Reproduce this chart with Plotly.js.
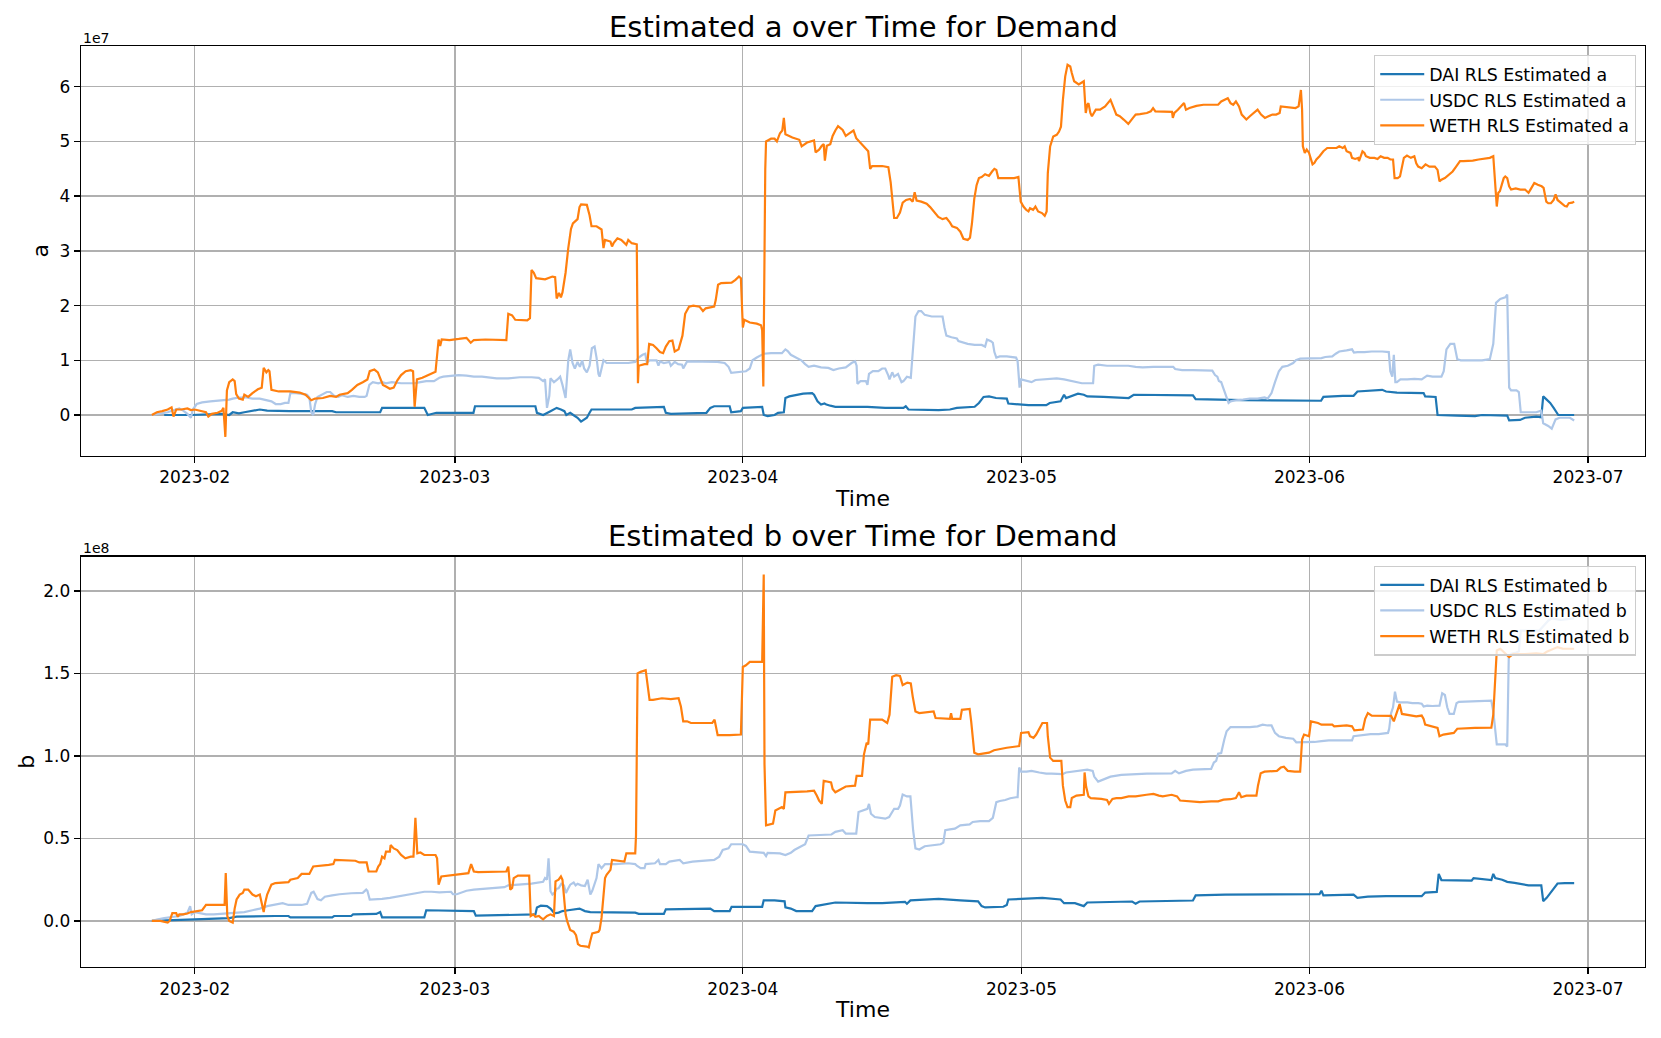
<!DOCTYPE html>
<html>
<head>
<meta charset="utf-8">
<script src="https://cdn.plot.ly/plotly-3.0.1.min.js"></script>
<style>html,body{margin:0;padding:0;background:#fff;}#chart{width:1661px;height:1038px;}</style>
</head>
<body>
<div id="chart"></div>
<script>
// Values in axis display units: a in 1e7, b in 1e8. Times are "MM-DD HH" in 2023.
const SCALE_A = 1e7;
const SCALE_B = 1e8;
const YEAR = "2023";

const seriesNames = ["DAI", "USDC", "WETH"];
const seriesColors = ["#1f77b4", "#aec7e8", "#ff7f0e"];
const xTickFormat = "%Y-%m";
const aTickVals = [0, 1, 2, 3, 4, 5, 6];
const aTickText = ["0", "1", "2", "3", "4", "5", "6"];
const bTickVals = [0, 0.5, 1.0, 1.5, 2.0];
const bTickText = ["0.0", "0.5", "1.0", "1.5", "2.0"];

const daiA = [["01-28 17",0.00],["01-31 14",0.00],["02-03 22",0.02],["02-04 17",0.00],["02-05 02",0.05],["02-05 18",0.03],["02-06 08",0.05],["02-07 05",0.08],["02-08 00",0.10],["02-08 19",0.08],["02-11 05",0.07],["02-15 19",0.07],["02-16 05",0.05],["02-20 23",0.05],["02-21 04",0.13],["02-25 17",0.13],["02-26 02",0.00],["02-27 00",0.04],["03-03 00",0.04],["03-03 04",0.16],["03-09 16",0.16],["03-09 20",0.04],["03-10 12",0.00],["03-11 07",0.07],["03-11 23",0.13],["03-12 10",0.10],["03-12 19",0.07],["03-13 00",0.00],["03-13 10",0.04],["03-13 18",0.00],["03-14 05",-0.05],["03-14 14",-0.12],["03-15 05",-0.05],["03-15 12",0.04],["03-15 17",0.10],["03-16 14",0.10],["03-20 01",0.10],["03-20 10",0.13],["03-23 12",0.15],["03-23 17",0.04],["03-24 06",0.02],["03-28 02",0.04],["03-28 12",0.13],["03-28 22",0.16],["03-30 14",0.16],["03-30 18",0.05],["03-31 19",0.07],["04-01 00",0.13],["04-03 02",0.15],["04-03 06",0.00],["04-03 16",-0.02],["04-04 10",0.00],["04-04 19",0.04],["04-05 10",0.05],["04-05 14",0.31],["04-06 00",0.34],["04-06 18",0.37],["04-07 12",0.39],["04-08 11",0.40],["04-08 16",0.37],["04-09 01",0.25],["04-09 10",0.19],["04-09 19",0.21],["04-10 00",0.19],["04-10 10",0.17],["04-10 23",0.15],["04-14 10",0.15],["04-16 08",0.13],["04-18 07",0.13],["04-18 13",0.16],["04-18 20",0.10],["04-20 05",0.09],["04-22 02",0.09],["04-23 07",0.10],["04-24 01",0.13],["04-25 23",0.15],["04-26 10",0.22],["04-26 22",0.33],["04-27 12",0.34],["04-28 06",0.31],["04-29 10",0.30],["04-29 14",0.21],["04-30 23",0.19],["05-01 18",0.18],["05-03 16",0.18],["05-04 01",0.22],["05-05 05",0.25],["05-05 14",0.37],["05-05 19",0.31],["05-06 08",0.34],["05-07 02",0.39],["05-07 17",0.37],["05-08 02",0.34],["05-09 20",0.33],["05-12 13",0.31],["05-13 02",0.37],["05-19 11",0.36],["05-19 18",0.29],["05-23 02",0.28],["05-24 20",0.27],["06-02 06",0.26],["06-02 12",0.33],["06-04 14",0.35],["06-05 18",0.35],["06-06 04",0.43],["06-08 20",0.46],["06-09 06",0.43],["06-10 10",0.41],["06-13 07",0.40],["06-13 11",0.34],["06-14 14",0.33],["06-14 19",0.00],["06-16 22",-0.01],["06-18 20",-0.02],["06-19 14",0.00],["06-20 19",-0.01],["06-22 07",-0.01],["06-22 12",-0.10],["06-23 16",-0.09],["06-24 05",-0.05],["06-25 10",-0.03],["06-25 23",-0.04],["06-26 04",0.34],["06-26 13",0.28],["06-26 22",0.22],["06-27 07",0.13],["06-27 19",0.00],["06-29 12",0.00]];

const usdcA = [["01-27 09",0.00],["01-28 07",0.02],["01-29 02",0.05],["01-29 23",0.10],["01-30 08",0.12],["01-30 18",0.08],["01-31 05",0.02],["01-31 14",-0.05],["01-31 19",0.10],["02-01 05",0.20],["02-01 19",0.23],["02-02 16",0.25],["02-03 11",0.26],["02-04 02",0.27],["02-04 17",0.28],["02-05 02",0.30],["02-05 18",0.32],["02-06 13",0.32],["02-07 05",0.30],["02-08 00",0.30],["02-08 14",0.28],["02-09 06",0.25],["02-09 17",0.20],["02-10 06",0.20],["02-10 17",0.22],["02-11 02",0.22],["02-11 07",0.40],["02-11 22",0.40],["02-12 17",0.38],["02-13 02",0.37],["02-13 08",0.32],["02-13 13",0.05],["02-13 18",0.00],["02-13 23",0.20],["02-14 05",0.33],["02-14 19",0.38],["02-15 05",0.42],["02-15 14",0.42],["02-16 00",0.35],["02-16 11",0.33],["02-16 20",0.36],["02-17 11",0.33],["02-18 02",0.35],["02-18 17",0.33],["02-19 07",0.33],["02-19 12",0.35],["02-19 19",0.55],["02-20 04",0.60],["02-20 18",0.58],["02-21 05",0.60],["02-21 14",0.58],["02-22 05",0.60],["02-23 05",0.58],["02-24 01",0.58],["02-24 16",0.58],["02-25 07",0.60],["02-25 22",0.62],["02-26 18",0.62],["02-27 08",0.68],["02-27 18",0.70],["02-28 14",0.72],["03-01 10",0.73],["03-02 06",0.72],["03-03 01",0.70],["03-03 22",0.70],["03-04 17",0.68],["03-05 12",0.67],["03-06 18",0.67],["03-08 00",0.69],["03-09 06",0.69],["03-10 01",0.68],["03-10 12",0.62],["03-10 17",0.65],["03-10 22",0.13],["03-11 04",0.35],["03-11 07",0.67],["03-11 16",0.60],["03-12 01",0.65],["03-12 08",0.70],["03-12 14",0.55],["03-12 22",0.31],["03-13 05",1.00],["03-13 10",1.20],["03-13 16",0.95],["03-13 22",0.85],["03-14 05",0.97],["03-14 11",0.88],["03-14 17",1.00],["03-14 22",0.85],["03-15 05",0.78],["03-15 12",0.90],["03-15 18",1.22],["03-16 01",1.25],["03-16 06",1.05],["03-16 11",0.75],["03-16 14",0.70],["03-16 19",0.85],["03-17 00",1.00],["03-17 08",0.95],["03-18 02",0.95],["03-19 00",0.95],["03-19 16",0.95],["03-20 10",0.97],["03-20 19",1.05],["03-21 05",1.10],["03-21 12",1.12],["03-21 16",0.95],["03-21 23",1.00],["03-22 17",1.00],["03-22 22",0.90],["03-23 02",0.98],["03-23 12",0.95],["03-24 02",0.97],["03-24 06",0.90],["03-24 16",0.97],["03-25 01",0.93],["03-25 11",0.92],["03-25 14",0.85],["03-26 00",0.98],["03-26 14",0.98],["03-27 08",0.97],["03-28 02",0.98],["03-29 06",0.97],["03-30 01",0.95],["03-30 11",0.88],["03-30 18",0.77],["03-31 05",0.78],["04-01 08",0.80],["04-01 18",0.85],["04-02 01",1.00],["04-02 12",1.05],["04-03 06",1.12],["04-04 01",1.13],["04-05 05",1.13],["04-05 14",1.20],["04-05 20",1.17],["04-06 04",1.10],["04-06 18",1.05],["04-07 07",1.00],["04-07 17",0.93],["04-08 02",0.88],["04-08 16",0.90],["04-09 10",0.87],["04-10 05",0.86],["04-10 18",0.82],["04-11 08",0.85],["04-12 02",0.87],["04-12 17",0.95],["04-13 02",0.98],["04-13 06",0.90],["04-13 08",0.57],["04-13 16",0.62],["04-14 06",0.62],["04-14 10",0.55],["04-14 14",0.75],["04-15 00",0.80],["04-15 14",0.80],["04-16 00",0.85],["04-16 08",0.85],["04-16 16",0.72],["04-16 19",0.65],["04-17 02",0.78],["04-17 07",0.70],["04-17 17",0.75],["04-18 02",0.60],["04-18 07",0.62],["04-18 16",0.70],["04-19 02",0.68],["04-19 08",1.30],["04-19 14",1.80],["04-19 22",1.90],["04-20 05",1.90],["04-20 14",1.83],["04-21 08",1.80],["04-21 23",1.80],["04-22 12",1.80],["04-22 17",1.60],["04-22 22",1.45],["04-23 11",1.42],["04-24 01",1.40],["04-24 05",1.35],["04-24 14",1.33],["04-25 05",1.30],["04-25 23",1.28],["04-26 17",1.28],["04-27 02",1.25],["04-27 07",1.38],["04-27 17",1.35],["04-27 22",1.32],["04-28 02",1.15],["04-28 07",1.05],["04-28 16",1.07],["04-29 10",1.07],["04-30 10",1.05],["04-30 14",0.98],["04-30 17",0.70],["04-30 19",0.50],["04-30 23",0.65],["05-01 13",0.62],["05-02 02",0.60],["05-02 12",0.64],["05-03 06",0.65],["05-04 01",0.65],["05-04 19",0.67],["05-05 14",0.65],["05-06 18",0.60],["05-07 12",0.58],["05-08 17",0.58],["05-08 20",0.90],["05-09 06",0.92],["05-10 05",0.90],["05-11 08",0.90],["05-12 12",0.90],["05-13 07",0.88],["05-14 01",0.87],["05-15 05",0.88],["05-16 10",0.88],["05-17 08",0.88],["05-17 13",0.84],["05-18 07",0.82],["05-19 11",0.82],["05-20 14",0.82],["05-21 13",0.81],["05-21 20",0.73],["05-22 02",0.70],["05-22 06",0.62],["05-22 12",0.60],["05-22 17",0.50],["05-23 00",0.35],["05-23 07",0.22],["05-23 12",0.25],["05-24 02",0.27],["05-24 20",0.28],["05-25 14",0.30],["05-26 10",0.30],["05-27 04",0.32],["05-27 12",0.30],["05-27 22",0.40],["05-28 07",0.60],["05-28 17",0.80],["05-29 02",0.88],["05-29 16",0.90],["05-30 06",0.95],["05-30 13",1.00],["05-31 00",1.03],["05-31 19",1.03],["06-01 13",1.04],["06-02 07",1.04],["06-02 17",1.06],["06-03 11",1.07],["06-03 20",1.12],["06-04 05",1.16],["06-05 00",1.18],["06-05 14",1.20],["06-05 19",1.14],["06-06 04",1.15],["06-06 22",1.15],["06-07 17",1.16],["06-08 20",1.16],["06-09 13",1.15],["06-09 17",0.80],["06-09 22",0.70],["06-10 02",1.10],["06-10 06",0.60],["06-10 10",0.60],["06-10 19",0.65],["06-11 13",0.65],["06-12 07",0.66],["06-13 02",0.65],["06-13 16",0.72],["06-14 06",0.70],["06-15 05",0.70],["06-15 11",0.80],["06-15 18",1.20],["06-16 04",1.30],["06-16 14",1.30],["06-16 22",1.02],["06-17 07",1.00],["06-18 11",1.00],["06-19 14",1.00],["06-20 10",1.02],["06-20 19",1.30],["06-21 02",2.05],["06-21 13",2.12],["06-22 02",2.15],["06-22 07",2.20],["06-22 12",0.50],["06-22 17",0.45],["06-23 07",0.45],["06-23 13",0.42],["06-23 18",0.05],["06-24 14",0.05],["06-25 10",0.05],["06-25 23",0.08],["06-26 04",-0.15],["06-26 17",-0.20],["06-27 02",-0.25],["06-27 12",-0.08],["06-27 22",-0.05],["06-28 12",-0.05],["06-29 01",-0.05],["06-29 12",-0.10]];

const wethA = [["01-27 09",0.00],["01-27 22",0.05],["01-28 12",0.07],["01-29 02",0.10],["01-29 12",0.14],["01-29 17",-0.03],["01-30 00",0.10],["01-30 13",0.10],["01-31 05",0.12],["01-31 14",0.09],["02-01 00",0.10],["02-01 14",0.07],["02-02 05",0.05],["02-02 11",-0.03],["02-02 20",0.02],["02-03 11",0.04],["02-03 22",0.08],["02-04 02",0.13],["02-04 07",-0.40],["02-04 11",0.45],["02-04 17",0.60],["02-05 02",0.65],["02-05 07",0.62],["02-05 11",0.38],["02-05 18",0.30],["02-06 04",0.28],["02-06 08",0.37],["02-06 18",0.33],["02-07 05",0.40],["02-07 19",0.47],["02-08 05",0.50],["02-08 10",0.86],["02-08 17",0.78],["02-08 22",0.82],["02-09 01",0.80],["02-09 06",0.46],["02-10 01",0.43],["02-11 07",0.43],["02-12 07",0.41],["02-12 22",0.37],["02-13 13",0.27],["02-13 23",0.30],["02-14 19",0.31],["02-15 14",0.35],["02-16 05",0.33],["02-16 14",0.37],["02-17 11",0.40],["02-17 22",0.46],["02-18 12",0.55],["02-19 02",0.60],["02-19 14",0.65],["02-19 20",0.80],["02-20 08",0.83],["02-20 17",0.78],["02-20 23",0.68],["02-21 06",0.55],["02-21 14",0.52],["02-22 00",0.48],["02-22 10",0.50],["02-22 19",0.63],["02-23 05",0.73],["02-23 17",0.80],["02-24 06",0.82],["02-24 12",0.80],["02-24 16",0.15],["02-24 22",0.65],["02-25 12",0.68],["02-26 07",0.74],["02-26 22",0.79],["02-27 06",1.38],["02-27 10",1.26],["02-27 14",1.38],["02-28 10",1.37],["03-01 10",1.39],["03-02 06",1.41],["03-02 17",1.32],["03-03 01",1.37],["03-04 07",1.38],["03-05 12",1.38],["03-06 13",1.37],["03-06 18",1.85],["03-07 04",1.82],["03-07 12",1.74],["03-08 19",1.73],["03-09 02",1.77],["03-09 06",2.65],["03-09 12",2.60],["03-09 18",2.50],["03-10 17",2.48],["03-11 02",2.50],["03-11 12",2.53],["03-11 19",2.52],["03-11 23",2.13],["03-12 05",2.23],["03-12 10",2.15],["03-12 14",2.24],["03-12 22",2.60],["03-13 05",3.05],["03-13 12",3.40],["03-13 17",3.50],["03-14 05",3.58],["03-14 10",3.80],["03-14 14",3.85],["03-15 05",3.84],["03-15 12",3.65],["03-15 17",3.45],["03-16 06",3.45],["03-16 19",3.39],["03-17 00",3.05],["03-17 04",3.20],["03-17 18",3.17],["03-17 22",3.08],["03-18 02",3.14],["03-18 12",3.23],["03-18 22",3.20],["03-19 11",3.11],["03-19 16",3.20],["03-20 01",3.14],["03-20 10",3.13],["03-20 14",3.12],["03-20 17",0.58],["03-20 19",0.90],["03-21 10",0.93],["03-21 17",0.93],["03-21 22",1.30],["03-22 08",1.28],["03-22 17",1.22],["03-23 02",1.15],["03-23 10",1.13],["03-23 17",1.25],["03-24 02",1.35],["03-24 10",1.36],["03-24 16",1.16],["03-25 02",1.20],["03-25 12",1.45],["03-25 19",1.85],["03-26 05",1.98],["03-26 16",2.00],["03-27 08",1.98],["03-27 17",1.90],["03-28 00",1.95],["03-28 22",1.98],["03-29 02",2.10],["03-29 08",2.38],["03-29 16",2.41],["03-30 19",2.42],["03-31 05",2.47],["03-31 14",2.53],["03-31 19",2.50],["04-01 00",1.60],["04-01 04",1.74],["04-01 18",1.69],["04-02 12",1.67],["04-02 23",1.64],["04-03 02",1.55],["04-03 05",0.52],["04-03 10",4.50],["04-03 12",5.00],["04-04 01",5.05],["04-04 10",5.05],["04-04 16",5.00],["04-05 00",5.15],["04-05 06",5.20],["04-05 10",5.43],["04-05 14",5.13],["04-06 08",5.07],["04-07 02",5.03],["04-07 08",4.91],["04-07 22",4.98],["04-08 16",5.02],["04-08 20",4.80],["04-09 05",4.85],["04-09 12",4.92],["04-09 17",4.95],["04-09 20",4.65],["04-10 01",4.92],["04-10 10",4.95],["04-10 16",5.10],["04-10 23",5.20],["04-11 06",5.28],["04-11 18",5.21],["04-12 02",5.10],["04-12 12",5.15],["04-12 22",5.20],["04-13 05",5.06],["04-13 16",4.97],["04-14 06",4.85],["04-14 12",4.82],["04-14 17",4.50],["04-14 22",4.55],["04-16 00",4.55],["04-16 16",4.53],["04-16 22",4.25],["04-17 02",3.95],["04-17 07",3.60],["04-17 14",3.60],["04-17 22",3.70],["04-18 05",3.88],["04-18 14",3.93],["04-19 00",3.95],["04-19 07",3.90],["04-19 12",4.07],["04-19 17",3.92],["04-20 05",3.90],["04-20 19",3.86],["04-21 04",3.80],["04-21 13",3.72],["04-22 01",3.62],["04-22 12",3.58],["04-22 22",3.60],["04-23 07",3.52],["04-23 13",3.45],["04-24 01",3.42],["04-24 10",3.35],["04-24 18",3.22],["04-25 05",3.20],["04-25 11",3.24],["04-25 16",3.50],["04-25 22",3.95],["04-26 04",4.20],["04-26 10",4.33],["04-26 17",4.35],["04-27 02",4.40],["04-27 12",4.37],["04-27 20",4.45],["04-28 02",4.50],["04-28 07",4.48],["04-28 12",4.33],["04-29 10",4.33],["04-30 05",4.33],["04-30 16",4.35],["04-30 22",3.90],["05-01 05",3.81],["05-01 12",3.75],["05-01 18",3.72],["05-01 22",3.78],["05-02 06",3.75],["05-02 12",3.81],["05-02 19",3.72],["05-03 05",3.69],["05-03 12",3.64],["05-03 17",3.72],["05-03 20",4.42],["05-04 02",4.91],["05-04 10",5.09],["05-04 19",5.12],["05-05 01",5.18],["05-05 06",5.27],["05-05 11",5.76],["05-05 17",6.19],["05-05 23",6.40],["05-06 06",6.37],["05-06 10",6.25],["05-06 16",6.10],["05-07 04",6.04],["05-07 12",6.07],["05-07 17",6.10],["05-07 22",5.52],["05-08 02",5.67],["05-08 05",5.70],["05-08 10",5.52],["05-08 14",5.46],["05-09 00",5.58],["05-09 11",5.58],["05-10 00",5.64],["05-10 14",5.76],["05-10 20",5.67],["05-11 00",5.58],["05-11 05",5.49],["05-11 14",5.46],["05-12 00",5.40],["05-12 12",5.32],["05-13 00",5.43],["05-13 07",5.49],["05-13 18",5.50],["05-14 12",5.52],["05-14 22",5.55],["05-15 04",5.61],["05-15 10",5.55],["05-16 00",5.55],["05-16 14",5.54],["05-17 05",5.54],["05-17 07",5.43],["05-17 11",5.52],["05-17 20",5.58],["05-18 07",5.67],["05-18 12",5.70],["05-18 17",5.58],["05-19 02",5.61],["05-19 20",5.65],["05-20 14",5.67],["05-21 09",5.67],["05-22 04",5.67],["05-22 12",5.73],["05-22 22",5.76],["05-23 05",5.79],["05-23 12",5.70],["05-23 19",5.67],["05-24 02",5.73],["05-24 10",5.64],["05-24 17",5.49],["05-25 00",5.43],["05-25 05",5.40],["05-25 14",5.46],["05-26 00",5.52],["05-26 10",5.58],["05-26 19",5.49],["05-27 05",5.43],["05-27 14",5.46],["05-28 00",5.49],["05-28 10",5.49],["05-28 19",5.52],["05-28 22",5.64],["05-29 12",5.63],["05-30 02",5.63],["05-30 12",5.61],["05-30 20",5.64],["05-31 02",5.94],["05-31 05",5.58],["05-31 07",4.91],["05-31 12",4.79],["05-31 17",4.85],["05-31 23",4.79],["06-01 04",4.67],["06-01 08",4.58],["06-01 13",4.61],["06-01 18",4.67],["06-02 02",4.73],["06-02 12",4.82],["06-02 22",4.88],["06-03 12",4.88],["06-03 22",4.88],["06-04 05",4.91],["06-04 14",4.88],["06-04 19",4.91],["06-05 00",4.82],["06-05 10",4.79],["06-05 14",4.70],["06-05 22",4.68],["06-06 06",4.70],["06-06 08",4.64],["06-06 13",4.73],["06-06 17",4.82],["06-06 22",4.79],["06-07 02",4.73],["06-07 12",4.70],["06-08 00",4.70],["06-08 08",4.68],["06-08 16",4.73],["06-09 01",4.70],["06-09 10",4.70],["06-09 17",4.67],["06-10 00",4.67],["06-10 04",4.33],["06-10 12",4.33],["06-10 18",4.36],["06-11 00",4.58],["06-11 04",4.70],["06-11 12",4.74],["06-11 22",4.70],["06-12 07",4.73],["06-12 12",4.60],["06-12 17",4.54],["06-13 02",4.51],["06-13 12",4.58],["06-13 22",4.54],["06-14 12",4.54],["06-14 19",4.48],["06-15 00",4.27],["06-15 05",4.30],["06-15 14",4.33],["06-16 00",4.39],["06-16 10",4.45],["06-16 19",4.54],["06-17 00",4.60],["06-17 05",4.64],["06-17 14",4.64],["06-18 05",4.64],["06-18 14",4.65],["06-19 05",4.67],["06-19 19",4.68],["06-20 10",4.70],["06-20 19",4.73],["06-21 00",4.30],["06-21 04",3.81],["06-21 08",4.06],["06-21 12",4.09],["06-21 17",4.21],["06-21 22",4.33],["06-22 02",4.36],["06-22 07",4.33],["06-22 12",4.18],["06-22 17",4.12],["06-23 05",4.14],["06-23 17",4.12],["06-24 05",4.12],["06-24 14",4.06],["06-24 19",4.12],["06-25 00",4.18],["06-25 05",4.24],["06-25 14",4.21],["06-26 00",4.18],["06-26 05",4.15],["06-26 08",4.06],["06-26 12",3.90],["06-26 17",3.87],["06-27 00",3.87],["06-27 07",3.93],["06-27 12",4.03],["06-27 17",3.93],["06-28 02",3.87],["06-28 12",3.82],["06-28 17",3.81],["06-28 22",3.87],["06-29 07",3.88],["06-29 12",3.90]];

const daiB = [["01-27 09",0.000],["01-30 08",0.004],["02-01 00",0.010],["02-04 17",0.017],["02-05 12",0.026],["02-09 16",0.030],["02-11 02",0.030],["02-11 07",0.022],["02-15 19",0.022],["02-16 00",0.030],["02-17 20",0.030],["02-18 01",0.040],["02-20 13",0.043],["02-20 23",0.054],["02-21 04",0.022],["02-25 17",0.022],["02-25 22",0.065],["03-03 01",0.060],["03-03 06",0.032],["03-09 16",0.040],["03-09 20",0.082],["03-10 06",0.093],["03-10 22",0.090],["03-11 07",0.075],["03-11 17",0.047],["03-12 04",0.051],["03-12 14",0.060],["03-13 05",0.065],["03-13 19",0.070],["03-14 10",0.075],["03-15 00",0.060],["03-15 14",0.054],["03-20 10",0.050],["03-20 19",0.043],["03-23 12",0.043],["03-23 17",0.070],["03-28 12",0.075],["03-28 22",0.060],["03-30 14",0.060],["03-30 19",0.086],["04-03 02",0.086],["04-03 06",0.125],["04-04 10",0.125],["04-05 12",0.119],["04-05 14",0.082],["04-06 04",0.075],["04-06 18",0.060],["04-08 11",0.060],["04-08 20",0.090],["04-09 10",0.097],["04-10 05",0.104],["04-10 23",0.112],["04-14 10",0.108],["04-16 00",0.108],["04-18 11",0.116],["04-18 16",0.104],["04-19 01",0.125],["04-20 05",0.130],["04-22 02",0.134],["04-24 10",0.125],["04-26 08",0.119],["04-26 17",0.090],["04-27 02",0.082],["04-29 01",0.086],["04-29 10",0.097],["04-29 14",0.130],["04-30 23",0.134],["05-03 06",0.140],["05-05 05",0.130],["05-05 14",0.108],["05-06 18",0.108],["05-07 07",0.097],["05-07 17",0.090],["05-08 02",0.112],["05-11 08",0.118],["05-12 22",0.118],["05-13 07",0.104],["05-13 17",0.118],["05-19 11",0.124],["05-19 18",0.155],["05-22 22",0.160],["05-30 14",0.163],["06-02 02",0.163],["06-02 07",0.183],["06-02 12",0.155],["06-05 18",0.160],["06-06 04",0.140],["06-07 07",0.147],["06-09 06",0.150],["06-13 02",0.150],["06-13 11",0.172],["06-14 17",0.176],["06-14 22",0.285],["06-15 05",0.248],["06-18 11",0.244],["06-18 16",0.260],["06-19 19",0.255],["06-20 14",0.248],["06-20 19",0.285],["06-21 00",0.260],["06-21 18",0.250],["06-22 07",0.237],["06-23 02",0.231],["06-23 20",0.222],["06-24 14",0.216],["06-25 23",0.216],["06-26 04",0.120],["06-26 13",0.140],["06-27 00",0.172],["06-27 07",0.194],["06-27 17",0.227],["06-28 12",0.230],["06-29 12",0.230]];

const usdcB = [["01-27 09",0.000],["01-27 22",0.009],["01-28 17",0.017],["01-29 12",0.022],["01-30 08",0.030],["01-30 18",0.040],["01-31 05",0.050],["01-31 12",0.090],["01-31 16",0.040],["02-01 00",0.054],["02-01 10",0.048],["02-02 05",0.040],["02-03 01",0.040],["02-03 22",0.043],["02-04 17",0.048],["02-06 08",0.054],["02-07 05",0.065],["02-08 00",0.075],["02-08 19",0.090],["02-09 16",0.100],["02-10 11",0.108],["02-11 02",0.097],["02-12 12",0.097],["02-13 02",0.104],["02-13 13",0.170],["02-13 19",0.177],["02-14 05",0.133],["02-14 14",0.125],["02-15 00",0.147],["02-15 19",0.155],["02-16 14",0.162],["02-17 20",0.168],["02-19 02",0.170],["02-19 11",0.190],["02-19 14",0.183],["02-19 20",0.130],["02-20 18",0.130],["02-21 04",0.134],["02-22 00",0.140],["02-22 19",0.147],["02-23 16",0.155],["02-24 22",0.170],["02-25 17",0.177],["02-26 12",0.177],["02-27 08",0.173],["02-28 14",0.177],["02-28 19",0.162],["03-01 05",0.162],["03-01 14",0.170],["03-02 06",0.183],["03-03 01",0.190],["03-03 22",0.194],["03-05 12",0.198],["03-06 08",0.205],["03-06 18",0.216],["03-08 00",0.220],["03-09 06",0.226],["03-10 12",0.237],["03-10 17",0.260],["03-10 22",0.250],["03-11 02",0.380],["03-11 07",0.180],["03-11 12",0.160],["03-11 17",0.170],["03-11 23",0.195],["03-12 04",0.198],["03-12 11",0.226],["03-12 18",0.216],["03-12 23",0.170],["03-13 04",0.194],["03-13 10",0.220],["03-13 19",0.233],["03-14 00",0.216],["03-14 05",0.226],["03-14 14",0.216],["03-15 00",0.212],["03-15 07",0.250],["03-15 14",0.160],["03-15 19",0.183],["03-16 06",0.260],["03-16 11",0.345],["03-16 19",0.320],["03-17 04",0.345],["03-18 07",0.345],["03-19 16",0.350],["03-20 10",0.345],["03-20 14",0.335],["03-21 00",0.320],["03-21 10",0.320],["03-21 13",0.345],["03-22 13",0.350],["03-22 22",0.370],["03-23 02",0.345],["03-23 17",0.345],["03-24 02",0.360],["03-25 05",0.370],["03-25 14",0.350],["03-26 14",0.360],["03-28 02",0.367],["03-28 22",0.370],["03-29 11",0.390],["03-29 20",0.430],["03-30 11",0.440],["03-30 18",0.465],["04-01 00",0.465],["04-01 08",0.455],["04-01 18",0.420],["04-03 06",0.413],["04-03 12",0.393],["04-03 16",0.413],["04-05 00",0.410],["04-05 14",0.400],["04-06 04",0.413],["04-06 13",0.430],["04-07 07",0.453],["04-07 17",0.465],["04-08 02",0.518],["04-09 10",0.522],["04-10 13",0.524],["04-10 23",0.540],["04-11 18",0.550],["04-12 02",0.530],["04-13 05",0.530],["04-13 11",0.660],["04-14 01",0.670],["04-14 10",0.680],["04-14 14",0.710],["04-14 19",0.650],["04-15 05",0.630],["04-16 08",0.620],["04-16 18",0.630],["04-17 01",0.660],["04-17 07",0.680],["04-17 17",0.680],["04-17 22",0.700],["04-18 05",0.766],["04-18 16",0.755],["04-19 01",0.755],["04-19 08",0.550],["04-19 14",0.440],["04-20 00",0.433],["04-20 14",0.453],["04-21 08",0.458],["04-22 07",0.465],["04-22 14",0.475],["04-22 19",0.550],["04-23 07",0.555],["04-23 20",0.560],["04-24 10",0.580],["04-25 10",0.585],["04-25 18",0.600],["04-26 13",0.605],["04-27 12",0.605],["04-27 22",0.625],["04-28 07",0.720],["04-28 16",0.727],["04-29 06",0.733],["04-29 19",0.744],["04-30 10",0.750],["04-30 14",0.750],["04-30 18",0.930],["04-30 23",0.905],["05-01 13",0.905],["05-02 02",0.910],["05-02 22",0.900],["05-03 16",0.893],["05-04 06",0.893],["05-04 19",0.890],["05-05 10",0.890],["05-05 19",0.900],["05-06 08",0.905],["05-07 07",0.910],["05-08 02",0.917],["05-08 16",0.910],["05-08 20",0.875],["05-09 06",0.845],["05-10 01",0.860],["05-10 14",0.875],["05-11 18",0.885],["05-12 22",0.890],["05-14 12",0.893],["05-17 04",0.895],["05-17 13",0.910],["05-17 23",0.895],["05-18 17",0.910],["05-19 11",0.917],["05-20 14",0.922],["05-21 10",0.922],["05-21 17",0.960],["05-21 23",0.970],["05-22 04",1.014],["05-22 12",1.018],["05-22 20",1.100],["05-23 02",1.150],["05-23 12",1.175],["05-24 11",1.175],["05-25 14",1.175],["05-26 10",1.180],["05-26 23",1.190],["05-27 12",1.185],["05-27 22",1.185],["05-28 07",1.140],["05-28 17",1.120],["05-29 11",1.110],["05-30 06",1.105],["05-30 14",1.083],["05-31 00",1.083],["05-31 19",1.083],["06-01 13",1.085],["06-02 07",1.090],["06-03 02",1.095],["06-03 20",1.095],["06-05 14",1.095],["06-05 18",1.120],["06-06 13",1.125],["06-07 07",1.128],["06-07 14",1.133],["06-08 11",1.133],["06-09 11",1.140],["06-09 14",1.165],["06-09 19",1.260],["06-10 00",1.295],["06-10 05",1.390],["06-10 10",1.330],["06-10 18",1.325],["06-11 13",1.325],["06-12 02",1.320],["06-12 17",1.320],["06-13 02",1.317],["06-13 07",1.300],["06-13 16",1.305],["06-14 06",1.303],["06-15 00",1.305],["06-15 07",1.380],["06-15 14",1.370],["06-15 20",1.295],["06-16 02",1.255],["06-16 13",1.255],["06-16 20",1.320],["06-17 02",1.328],["06-18 01",1.330],["06-19 05",1.330],["06-20 00",1.335],["06-20 14",1.335],["06-20 19",1.270],["06-21 00",1.165],["06-21 04",1.070],["06-21 18",1.070],["06-22 02",1.070],["06-22 07",1.057],["06-22 11",1.600],["06-22 17",1.620],["06-23 07",1.627],["06-23 13",1.635],["06-23 18",1.760],["06-24 14",1.760],["06-25 18",1.760],["06-26 17",1.820],["06-27 02",1.834],["06-28 01",1.825],["06-29 12",1.834]];

const wethB = [["01-27 09",0.000],["01-28 07",0.000],["01-29 02",-0.010],["01-29 07",0.000],["01-29 14",0.047],["01-30 00",0.047],["01-30 04",0.026],["01-30 08",0.040],["01-30 18",0.040],["01-31 05",0.045],["01-31 14",0.054],["02-01 00",0.058],["02-01 19",0.065],["02-02 05",0.097],["02-03 11",0.097],["02-04 05",0.097],["02-04 08",0.290],["02-04 12",0.030],["02-04 17",0.000],["02-05 02",-0.010],["02-05 07",0.075],["02-05 12",0.130],["02-05 20",0.160],["02-06 04",0.170],["02-06 08",0.190],["02-06 18",0.190],["02-07 05",0.160],["02-07 14",0.150],["02-08 00",0.160],["02-08 06",0.100],["02-08 10",0.054],["02-08 14",0.110],["02-08 19",0.160],["02-09 06",0.220],["02-09 16",0.230],["02-11 02",0.235],["02-11 07",0.250],["02-12 02",0.260],["02-12 12",0.285],["02-13 08",0.285],["02-13 18",0.330],["02-15 10",0.340],["02-15 22",0.345],["02-16 02",0.370],["02-18 07",0.365],["02-18 17",0.355],["02-19 12",0.355],["02-19 17",0.300],["02-20 13",0.300],["02-20 18",0.330],["02-20 23",0.345],["02-21 04",0.390],["02-21 10",0.380],["02-21 14",0.420],["02-22 00",0.420],["02-22 02",0.460],["02-22 10",0.440],["02-22 19",0.430],["02-23 05",0.400],["02-23 16",0.380],["02-24 06",0.390],["02-24 13",0.390],["02-24 18",0.625],["02-24 23",0.410],["02-25 07",0.415],["02-25 17",0.400],["02-26 22",0.400],["02-27 02",0.380],["02-27 06",0.220],["02-27 13",0.270],["02-28 05",0.275],["03-01 00",0.280],["03-01 19",0.285],["03-02 11",0.290],["03-02 18",0.345],["03-03 01",0.300],["03-03 12",0.296],["03-05 12",0.300],["03-06 13",0.300],["03-06 18",0.330],["03-06 23",0.190],["03-07 04",0.200],["03-07 08",0.260],["03-07 19",0.275],["03-09 00",0.275],["03-09 04",0.030],["03-09 11",0.040],["03-09 16",0.025],["03-10 01",0.030],["03-10 06",0.020],["03-10 12",0.010],["03-10 22",0.030],["03-11 07",0.040],["03-11 16",0.030],["03-11 20",0.240],["03-12 04",0.250],["03-12 10",0.270],["03-12 14",0.250],["03-12 22",0.040],["03-13 02",0.000],["03-13 10",-0.055],["03-13 19",-0.065],["03-14 01",-0.086],["03-14 06",-0.140],["03-14 12",-0.150],["03-15 05",-0.155],["03-15 10",-0.160],["03-15 14",-0.120],["03-15 19",-0.075],["03-16 11",-0.065],["03-16 14",-0.054],["03-16 19",0.020],["03-17 00",0.170],["03-17 04",0.260],["03-17 08",0.280],["03-17 18",0.310],["03-17 22",0.370],["03-19 06",0.360],["03-19 11",0.410],["03-20 10",0.410],["03-20 12",0.520],["03-20 16",1.500],["03-21 00",1.510],["03-21 13",1.520],["03-21 18",1.430],["03-21 23",1.340],["03-22 08",1.340],["03-22 22",1.345],["03-23 07",1.350],["03-24 06",1.345],["03-25 02",1.350],["03-25 08",1.300],["03-25 14",1.210],["03-26 00",1.210],["03-26 10",1.200],["03-27 23",1.200],["03-28 17",1.200],["03-28 23",1.220],["03-29 07",1.126],["03-30 14",1.126],["03-31 19",1.130],["04-01 00",1.540],["04-01 08",1.550],["04-01 18",1.570],["04-03 02",1.570],["04-03 06",2.100],["04-03 08",0.950],["04-03 12",0.580],["04-04 06",0.590],["04-04 12",0.670],["04-05 05",0.690],["04-05 10",0.680],["04-05 14",0.780],["04-07 22",0.785],["04-08 16",0.790],["04-08 23",0.760],["04-09 05",0.730],["04-09 12",0.710],["04-09 17",0.850],["04-10 12",0.840],["04-10 16",0.800],["04-10 23",0.780],["04-12 02",0.815],["04-13 02",0.820],["04-13 06",0.880],["04-13 20",0.880],["04-14 01",1.010],["04-14 08",1.080],["04-14 12",1.070],["04-14 17",1.220],["04-16 00",1.220],["04-16 13",1.200],["04-16 19",1.250],["04-17 02",1.480],["04-17 12",1.490],["04-17 22",1.485],["04-18 05",1.430],["04-18 17",1.445],["04-19 02",1.440],["04-19 07",1.360],["04-19 14",1.270],["04-20 00",1.260],["04-21 13",1.270],["04-21 18",1.230],["04-23 07",1.225],["04-23 10",1.260],["04-23 13",1.225],["04-24 10",1.225],["04-24 14",1.280],["04-25 10",1.285],["04-25 14",1.210],["04-25 22",1.020],["04-26 08",1.010],["04-27 12",1.020],["04-28 01",1.035],["04-29 10",1.050],["04-30 18",1.060],["04-30 23",1.140],["05-01 18",1.145],["05-01 22",1.120],["05-02 07",1.110],["05-02 14",1.130],["05-02 22",1.165],["05-03 06",1.200],["05-03 18",1.200],["05-03 20",1.120],["05-04 02",0.990],["05-04 10",0.970],["05-05 07",0.970],["05-05 11",0.820],["05-05 17",0.730],["05-05 23",0.690],["05-06 06",0.690],["05-06 10",0.745],["05-06 22",0.760],["05-07 17",0.765],["05-07 19",0.900],["05-07 23",0.815],["05-08 05",0.755],["05-08 11",0.745],["05-09 14",0.740],["05-10 05",0.733],["05-10 10",0.710],["05-10 19",0.740],["05-11 05",0.745],["05-11 18",0.745],["05-12 13",0.755],["05-13 07",0.755],["05-14 11",0.765],["05-15 05",0.770],["05-15 19",0.760],["05-16 05",0.755],["05-17 04",0.765],["05-17 18",0.755],["05-18 02",0.730],["05-19 01",0.725],["05-20 05",0.720],["05-21 10",0.725],["05-22 04",0.725],["05-22 18",0.735],["05-23 12",0.738],["05-24 02",0.745],["05-24 10",0.780],["05-24 16",0.750],["05-25 05",0.760],["05-26 07",0.760],["05-26 11",0.820],["05-26 18",0.895],["05-27 04",0.905],["05-28 12",0.910],["05-28 22",0.930],["05-29 06",0.935],["05-29 16",0.910],["05-30 10",0.905],["05-31 00",0.905],["05-31 05",1.100],["05-31 10",1.130],["05-31 23",1.120],["06-01 04",1.210],["06-01 22",1.200],["06-02 07",1.190],["06-03 11",1.190],["06-03 16",1.180],["06-05 00",1.186],["06-05 14",1.180],["06-05 20",1.155],["06-06 18",1.160],["06-07 00",1.225],["06-07 07",1.260],["06-07 17",1.245],["06-09 06",1.245],["06-09 19",1.243],["06-10 02",1.210],["06-10 10",1.270],["06-10 17",1.315],["06-10 23",1.255],["06-11 22",1.245],["06-12 12",1.240],["06-13 02",1.245],["06-13 07",1.225],["06-13 11",1.190],["06-14 19",1.170],["06-15 00",1.120],["06-15 10",1.130],["06-16 13",1.140],["06-16 22",1.165],["06-18 20",1.170],["06-20 14",1.172],["06-20 19",1.250],["06-21 00",1.470],["06-21 04",1.640],["06-21 13",1.650],["06-22 02",1.620],["06-22 12",1.600],["06-22 22",1.617],["06-24 05",1.617],["06-25 10",1.622],["06-26 04",1.617],["06-26 13",1.632],["06-27 02",1.645],["06-27 17",1.660],["06-28 06",1.651],["06-29 12",1.650]];

const seriesA = [daiA, usdcA, wethA];
const seriesB = [daiB, usdcB, wethB];

function mkTrace(pts, scale, i, suffix, xa, ya, leg) {
  return {
    type: "scatter", mode: "lines",
    x: pts.map(p => YEAR + "-" + p[0]),
    y: pts.map(p => p[1] * scale),
    name: seriesNames[i] + " RLS Estimated " + suffix,
    line: {color: seriesColors[i], width: 2.2},
    xaxis: xa, yaxis: ya, legend: leg,
    hoverinfo: "skip"
  };
}

const traces = [];
seriesA.forEach((s, i) => traces.push(mkTrace(s, SCALE_A, i, "a", "x", "y", "legend")));
seriesB.forEach((s, i) => traces.push(mkTrace(s, SCALE_B, i, "b", "x2", "y2", "legend2")));

const FONT = "DejaVu Sans, Liberation Sans, sans-serif";
const plotTop = 46, plotBot = 967, plotH = plotBot - plotTop;
const py = px => (plotBot - px) / plotH;

function xAxis(anchor) {
  return {
    anchor: anchor, type: "date", domain: [0, 1],
    range: ["2023-01-19 18:00", "2023-07-07 03:00"],
    tick0: "2023-01-01", dtick: "M1", tickformat: xTickFormat,
    ticks: "outside", ticklen: 6, tickwidth: 1.3, tickcolor: "#000",
    showgrid: true, gridcolor: "#b0b0b0", gridwidth: 1.3,
    showline: true, linecolor: "#000", linewidth: 1.3, mirror: true,
    zeroline: false,
    tickfont: {family: FONT, size: 17, color: "#000"},
    title: {text: "Time", font: {family: FONT, size: 22, color: "#000"}, standoff: 4},
    automargin: false
  };
}
function yAxis(anchor, domain, range, tv, tt, scale, label, so) {
  return {
    anchor: anchor, domain: domain, range: range,
    tickvals: tv.map(v => v * scale), ticktext: tt,
    ticks: "outside", ticklen: 6, tickwidth: 1.3, tickcolor: "#000",
    showgrid: true, gridcolor: "#b0b0b0", gridwidth: 1.3,
    showline: true, linecolor: "#000", linewidth: 1.3, mirror: true,
    zeroline: false,
    tickfont: {family: FONT, size: 17, color: "#000"},
    title: {text: label, font: {family: FONT, size: 22, color: "#000"}, standoff: so},
    automargin: false
  };
}

const legendStyle = {
  bgcolor: "rgba(255,255,255,0.8)", bordercolor: "#cccccc", borderwidth: 1.3,
  font: {family: FONT, size: 17.4, color: "#000"}, xanchor: "right", yanchor: "top",
  x: 0.9942, tracegroupgap: 0, itemwidth: 44
};

const layout = {
  width: 1661, height: 1038,
  margin: {l: 81, r: 16, t: plotTop, b: 1038 - plotBot, pad: 0},
  paper_bgcolor: "#fff", plot_bgcolor: "#fff",
  font: {family: FONT, color: "#000"},
  showlegend: true,
  xaxis: xAxis("y"),
  yaxis: yAxis("x", [py(455.7), 1], [-0.744 * SCALE_A, 6.744 * SCALE_A], aTickVals, aTickText, SCALE_A, "a", 4),
  xaxis2: xAxis("y2"),
  yaxis2: yAxis("x2", [0, py(556.7)], [-0.279 * SCALE_B, 2.208 * SCALE_B], bTickVals, bTickText, SCALE_B, "b", 2),
  legend: Object.assign({}, legendStyle, {y: py(55)}),
  legend2: Object.assign({}, legendStyle, {y: py(565.7)}),
  annotations: [
    {text: "Estimated a over Time for Demand", xref: "paper", yref: "paper", x: 0.5, y: py(27.5),
     xanchor: "center", yanchor: "middle", showarrow: false, font: {family: FONT, size: 29, color: "#000"}},
    {text: "Estimated b over Time for Demand", xref: "paper", yref: "paper", x: 0.5, y: py(536),
     xanchor: "center", yanchor: "middle", showarrow: false, font: {family: FONT, size: 29, color: "#000"}},
    {text: "1e7", xref: "paper", yref: "paper", x: 0, y: py(37.5),
     xanchor: "left", yanchor: "middle", showarrow: false, font: {family: FONT, size: 14, color: "#000"}},
    {text: "1e8", xref: "paper", yref: "paper", x: 0, y: py(548),
     xanchor: "left", yanchor: "middle", showarrow: false, font: {family: FONT, size: 14, color: "#000"}}
  ],
  hovermode: false
};

Plotly.newPlot("chart", traces, layout, {staticPlot: true, displayModeBar: false});
</script>
</body>
</html>
